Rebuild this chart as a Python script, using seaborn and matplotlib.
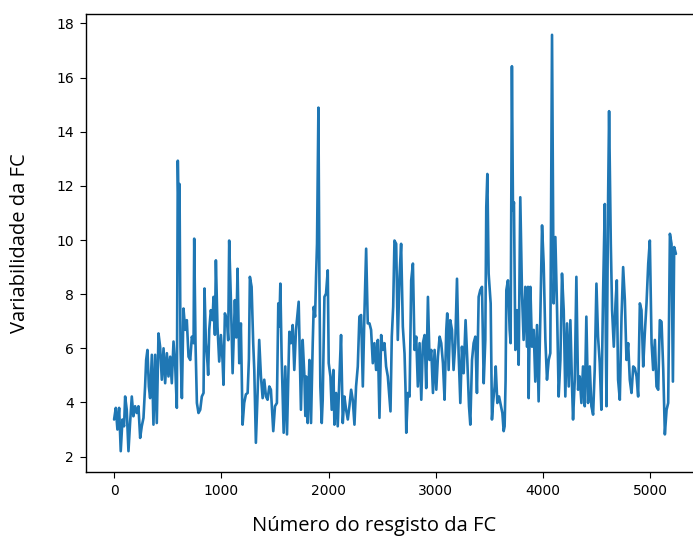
import matplotlib
matplotlib.use("Agg")
import matplotlib.pyplot as plt
import seaborn as sns
import pandas as pd

# Heart-rate variability per record
records = [
    0, 16, 31, 47, 62, 78, 93, 103, 118, 134, 149, 165, 180, 196, 212, 227, 243, 258, 274, 289,
    299, 311, 324, 336, 352, 367, 383, 398, 414, 429, 445, 461, 476, 492, 507, 523, 538, 554, 570, 585,
    594, 604, 610, 619, 632, 647, 663, 678, 694, 710, 725, 741, 747, 759, 772, 787, 803, 818, 834, 843,
    856,
    871, 877, 887, 902, 918, 927, 940, 949, 964, 980, 996, 1011, 1020, 1033, 1052, 1064, 1073, 1089, 1105, 1126,
    1139, 1151, 1167, 1182, 1198, 1213, 1229, 1245, 1257, 1266, 1282, 1297, 1307, 1322, 1338, 1353, 1369, 1385, 1400, 1416,
    1431, 1447, 1462, 1484, 1500, 1518, 1531, 1540, 1550, 1562, 1581, 1596, 1612, 1634, 1649, 1665, 1680, 1696, 1721, 1742,
    1758,
    1774, 1783, 1790, 1805, 1811, 1821, 1836, 1852, 1861, 1874, 1883, 1892, 1905, 1914, 1923, 1936, 1945, 1961, 1976, 1992,
    2001, 2017, 2029, 2045, 2054, 2070, 2085, 2101, 2116, 2132, 2147, 2163, 2179, 2194, 2210, 2225, 2241, 2256, 2272, 2287,
    2303, 2319, 2334, 2350, 2365, 2381, 2396, 2412, 2427, 2443, 2459, 2474, 2490, 2505, 2521, 2536, 2552, 2577, 2589, 2602,
    2614, 2630, 2645, 2661, 2676, 2692,
    2708, 2717, 2724, 2739, 2755, 2770, 2786, 2801, 2817, 2832, 2848, 2864, 2879, 2895, 2910, 2926, 2941, 2957, 2973, 2988,
    3004, 3019, 3035, 3050, 3066, 3081, 3097, 3106, 3119, 3134, 3150, 3165, 3181, 3197, 3212, 3228, 3243, 3259, 3277, 3293,
    3309, 3321, 3337, 3352, 3368, 3383, 3399, 3414, 3430, 3446, 3461, 3470, 3480, 3492, 3511, 3523, 3533, 3548, 3558, 3573,
    3589, 3604, 3620, 3632,
    3641, 3650, 3657, 3672, 3688, 3697, 3709, 3719, 3728, 3741, 3756, 3772, 3787, 3803, 3818, 3834, 3849, 3859, 3865, 3881,
    3896, 3912, 3927, 3943, 3958, 3974, 3990, 4005, 4021, 4036, 4052, 4067, 4083, 4098, 4114, 4130, 4145, 4161, 4176, 4192,
    4207, 4223, 4239, 4254, 4270, 4279, 4295, 4310, 4326, 4341, 4357, 4372, 4388, 4403, 4419, 4435, 4450, 4466, 4481, 4497,
    4512, 4528, 4543, 4559,
    4575, 4584, 4591, 4606, 4615, 4631, 4643, 4659, 4675, 4687, 4699, 4715, 4731, 4746, 4762, 4777, 4793, 4808, 4824, 4840,
    4855, 4871, 4886, 4902, 4917, 4933, 4948, 4964, 4980, 4995, 5011, 5026, 5042, 5057, 5073, 5088, 5104, 5120, 5135, 5151,
    5166, 5182, 5197, 5210, 5222, 5238,
]

variability = [
    3.37, 3.80, 3.00, 3.80, 2.20, 3.37, 3.12, 4.22, 3.73, 2.20, 3.24, 4.22, 3.49, 3.86, 3.61, 3.86, 2.69, 3.12, 3.43, 4.59,
    5.57, 5.94, 4.59, 4.16, 5.76, 3.18, 5.76, 3.24, 6.55, 6.06, 4.84, 6.00, 4.71, 5.82, 4.96, 5.69, 4.71, 6.25, 5.33, 3.80,
    12.93, 10.47, 12.07, 6.06, 4.16, 7.47, 6.68, 7.04, 5.69, 5.57, 6.43, 6.19, 10.05, 6.19, 3.98, 3.61, 3.73, 4.22, 4.35, 8.21,
    6.19,
    5.45, 5.02, 6.68, 7.41, 7.04, 7.90, 6.50, 9.25, 6.80, 5.51, 6.49, 5.57, 4.65, 7.29, 7.04, 6.30, 9.98, 7.78, 5.08, 7.78,
    6.40, 8.94, 5.45, 6.92, 3.18, 3.98, 4.30, 4.35, 5.60, 8.64, 8.27, 6.19, 5.20, 2.51, 4.35, 6.31, 4.96, 4.16, 4.84, 4.22,
    4.10, 4.59, 4.47, 2.94, 3.86, 3.98, 7.66, 6.80, 8.39, 5.69, 2.88, 5.33, 2.82, 6.61, 6.19, 6.86, 5.20, 6.68, 7.72, 3.73,
    6.31,
    5.00, 3.50, 4.96, 3.24, 4.20, 5.57, 3.24, 6.19, 7.53, 7.17, 8.64, 9.86, 14.89, 8.64, 4.59, 3.24, 4.10, 7.90, 8.02, 8.88,
    5.45, 4.96, 3.73, 5.20, 3.18, 4.35, 3.12, 4.96, 6.49, 3.24, 4.22, 3.73, 3.37, 3.86, 4.47, 4.10, 3.18, 4.59, 5.33, 7.17,
    7.23, 4.59, 7.29, 9.68, 6.92, 6.92, 6.68, 5.45, 6.19, 5.20, 6.31, 3.43, 6.49, 5.94, 6.19, 5.33, 4.96, 3.67, 6.43, 7.53,
    9.98, 9.86, 6.31, 8.64, 9.86, 6.80,
    5.80, 4.50, 2.88, 4.35, 4.22, 8.51, 9.13, 5.94, 6.43, 4.59, 6.19, 4.10, 6.19, 6.49, 4.53, 7.90, 5.57, 5.94, 4.35, 5.94,
    4.47, 5.69, 6.43, 6.19, 5.45, 4.10, 6.68, 7.29, 5.20, 7.04, 6.68, 5.20, 6.19, 8.57, 5.82, 3.98, 6.06, 5.08, 7.04, 5.57,
    3.86, 3.18, 5.57, 6.19, 6.43, 4.35, 7.90, 8.15, 8.27, 4.71, 6.31, 11.21, 12.44, 8.76, 7.66, 3.37, 3.98, 4.59, 5.33, 3.98,
    4.22, 3.92, 3.61, 2.94,
    3.12, 4.80, 8.15, 8.51, 6.68, 6.19, 16.42, 11.09, 11.39, 5.94, 7.41, 5.39, 11.58, 8.02, 6.31, 8.27, 6.06, 8.27, 4.16, 8.27,
    6.06, 6.68, 4.77, 6.86, 4.04, 7.17, 10.54, 9.13, 6.31, 4.84, 5.57, 5.82, 17.58, 7.66, 10.11, 7.41, 4.22, 5.57, 8.76, 7.41,
    4.22, 6.92, 4.59, 7.04, 4.53, 3.37, 4.84, 8.64, 4.47, 4.96, 3.98, 5.33, 3.86, 7.17, 3.98, 5.33, 3.86, 3.55, 5.20, 8.39,
    6.43, 5.45, 3.73, 8.02,
    11.33, 6.50, 3.86, 11.58, 14.76, 9.86, 7.41, 6.06, 7.66, 8.51, 4.84, 4.10, 7.17, 9.00, 7.78, 5.57, 6.19, 4.84, 4.35, 5.33,
    5.27, 4.96, 4.22, 7.66, 7.41, 5.33, 6.55, 7.66, 9.13, 9.98, 6.19, 5.20, 6.31, 4.59, 4.47, 7.04, 6.98, 5.20, 2.82, 3.73,
    3.98, 10.23, 9.86, 4.77, 9.74, 9.49,
]

y_ticks = [2, 4, 6, 8, 10, 12, 14, 16, 18]
x_ticks = [0, 1000, 2000, 3000, 4000, 5000]
x_label = "Número do resgisto da FC"
y_label = "Variabilidade da FC"

df = pd.DataFrame({"record": records, "variability": variability})

sns.set_style("ticks", {"axes.edgecolor": "black", "xtick.color": "black",
                        "ytick.color": "black", "text.color": "black",
                        "axes.labelcolor": "black"})
plt.rcParams["font.family"] = ["DejaVu Sans"]

fig = plt.figure(figsize=(6.93, 5.37), dpi=100)
ax = fig.add_axes([86 / 693, 1 - 472 / 537, 618 / 693, 458 / 537])

sns.lineplot(data=df, x="record", y="variability", ax=ax, color="#1f77b4",
             linewidth=1.9, estimator=None, sort=False)

ax.set_xticks(x_ticks)
ax.set_yticks(y_ticks)
ax.tick_params(labelsize=10, length=4.5, width=0.8, colors="black", pad=4)
for s in ax.spines.values():
    s.set_linewidth(1.0)
    s.set_color("black")

ax.set_xlabel(x_label, fontsize=14.5, family=["Open Sans", "DejaVu Sans"])
ax.set_ylabel(y_label, fontsize=14.5, family=["Open Sans", "DejaVu Sans"])
ax.xaxis.set_label_coords(0.466, -0.095)
ax.yaxis.set_label_coords(-0.09, 0.5)

fig.savefig("out.png", dpi=100)
